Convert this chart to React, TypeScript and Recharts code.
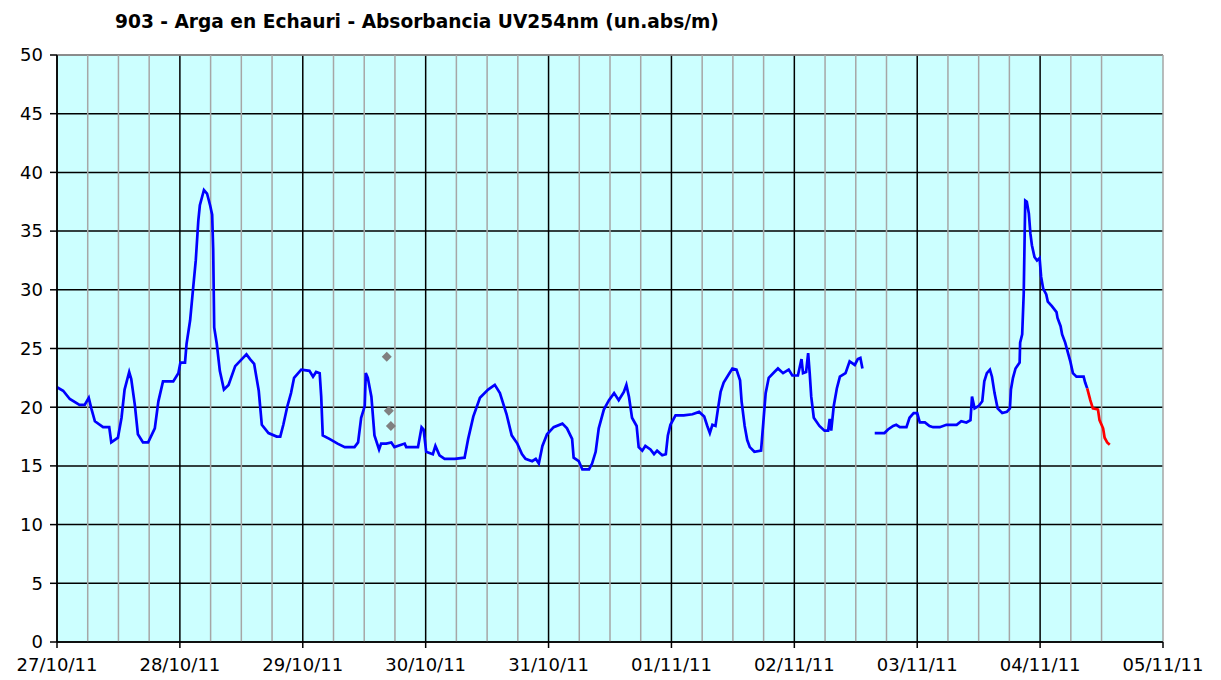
import {
  CartesianGrid,
  ComposedChart,
  Line,
  Scatter,
  XAxis,
  YAxis,
} from "recharts";

// hours since 27/10/11 00:00 -> absorbance (un.abs/m)
const dayLabels = [
  "27/10/11",
  "28/10/11",
  "29/10/11",
  "30/10/11",
  "31/10/11",
  "01/11/11",
  "02/11/11",
  "03/11/11",
  "04/11/11",
  "05/11/11",
];

const yTicks = [0, 5, 10, 15, 20, 25, 30, 35, 40, 45, 50];

const blueBeforeGap: [number, number][] = [
  [0, 21.7], [1.2, 21.4], [2.5, 20.7], [4.4, 20.2], [5.4, 20.2], [6.2, 20.8],
  [6.7, 19.9], [7.4, 18.8], [9.0, 18.3], [10.2, 18.3], [10.6, 17.0], [11.9, 17.4],
  [12.6, 19.1], [13.2, 21.5], [14.1, 23.0], [14.5, 22.4], [15.2, 20.2], [15.8, 17.7],
  [16.8, 17.0], [17.8, 17.0], [19.1, 18.2], [19.8, 20.5], [20.7, 22.2], [22.7, 22.2],
  [23.7, 22.9], [24.1, 23.8], [25.0, 23.8], [25.3, 25.4], [26.0, 27.4], [26.6, 30.2],
  [27.1, 32.5], [27.6, 35.9], [27.9, 37.2], [28.7, 38.5], [29.3, 38.2], [29.9, 37.2],
  [30.3, 36.4], [30.5, 33.5], [30.7, 26.8], [31.2, 25.4], [31.8, 23.1], [32.6, 21.5],
  [33.5, 21.9], [34.8, 23.5], [36.1, 24.1], [37.0, 24.5], [37.7, 24.1], [38.5, 23.7],
  [39.4, 21.4], [40.0, 18.5], [41.3, 17.8], [42.9, 17.5], [43.6, 17.5], [44.2, 18.5],
  [45.0, 20.1], [45.7, 21.2], [46.3, 22.5], [47.7, 23.2], [49.3, 23.1], [50.0, 22.6],
  [50.6, 23.0], [51.3, 22.9], [51.6, 20.9], [51.9, 17.6], [53.2, 17.3], [54.8, 16.9],
  [56.2, 16.6], [58.1, 16.6], [58.8, 17.0], [59.4, 19.1], [60.1, 20.1], [60.3, 22.9],
  [60.7, 22.5], [61.4, 20.9], [62.0, 17.6], [62.9, 16.4], [63.3, 16.9], [64.3, 16.9],
  [65.3, 17.0], [65.9, 16.6], [67.9, 16.9], [68.2, 16.6], [70.5, 16.6], [71.2, 18.3],
  [71.6, 18.1], [72.1, 16.2], [73.4, 16.0], [73.9, 16.7], [74.7, 15.9], [75.7, 15.6],
  [77.7, 15.6], [79.6, 15.7], [80.3, 17.3], [81.3, 19.2], [82.6, 20.8], [84.2, 21.5],
  [85.5, 21.9], [86.5, 21.2], [87.8, 19.4], [88.8, 17.6], [89.9, 16.9], [90.8, 16.0],
  [91.5, 15.6], [92.8, 15.4], [93.5, 15.6], [94.1, 15.2], [94.8, 16.7], [95.7, 17.7],
  [97.0, 18.3], [98.7, 18.6], [99.6, 18.2], [100.6, 17.3], [100.9, 15.7], [101.9, 15.4],
  [102.6, 14.7], [103.9, 14.7], [104.5, 15.2], [105.2, 16.2], [105.8, 18.2], [106.8, 19.8],
  [107.8, 20.6], [108.8, 21.2], [109.7, 20.6], [110.7, 21.3], [111.2, 21.9], [111.7, 20.9],
  [112.3, 19.1], [113.2, 18.4], [113.6, 16.6], [114.3, 16.3], [114.9, 16.7], [115.9, 16.4],
  [116.6, 16.0], [117.2, 16.3], [118.2, 15.9], [118.9, 16.0], [119.3, 17.6], [119.8, 18.5],
  [120.8, 19.3], [122.4, 19.3], [124.1, 19.4], [125.4, 19.6], [126.4, 19.2], [127.0, 18.4],
  [127.5, 17.8], [128.0, 18.5], [128.6, 18.4], [129.1, 19.9], [129.6, 21.3], [130.2, 22.1],
  [131.2, 22.8], [131.9, 23.3], [132.7, 23.2], [133.4, 22.3], [133.7, 20.5], [134.3, 18.4],
  [134.8, 17.2], [135.3, 16.6], [136.2, 16.2], [137.5, 16.3], [138.0, 19.0], [138.4, 21.2],
  [139.0, 22.5], [140.1, 23.0], [140.8, 23.3], [141.8, 22.9], [142.9, 23.2], [143.6, 22.7],
  [144.7, 22.7], [145.4, 24.1], [145.7, 22.9], [146.3, 23.0], [146.7, 24.6], [147.0, 22.9],
  [147.3, 20.9], [147.8, 19.1], [148.9, 18.4], [149.9, 18.0], [150.6, 18.0], [150.9, 19.0],
  [151.2, 18.0], [151.7, 20.1], [152.3, 21.6], [152.9, 22.6], [154.0, 22.9], [154.8, 23.9],
  [155.8, 23.6], [156.4, 24.1], [156.9, 24.2], [157.3, 23.3],
];

const blueAfterGap: [number, number][] = [
  [159.7, 17.8], [160.7, 17.8], [161.6, 17.8], [162.3, 18.1], [163.3, 18.4], [163.9, 18.5],
  [164.6, 18.3], [165.9, 18.3], [166.5, 19.1], [167.3, 19.5], [168.0, 19.5], [168.5, 18.7],
  [169.5, 18.7], [170.4, 18.4], [171.1, 18.3], [172.4, 18.3], [173.7, 18.5], [175.7, 18.5],
  [176.6, 18.8], [177.6, 18.7], [178.4, 18.9], [178.7, 20.9], [179.2, 19.9], [180.0, 20.1],
  [180.7, 20.5], [181.1, 22.2], [181.6, 22.9], [182.2, 23.2], [182.6, 22.6], [183.1, 21.2],
  [183.7, 19.9], [184.6, 19.5], [185.5, 19.6], [186.1, 19.9], [186.3, 21.5], [186.7, 22.5],
  [187.2, 23.3], [188.0, 23.8], [188.1, 25.5], [188.5, 26.2], [188.8, 29.7], [189.0, 35.1],
  [189.1, 37.6], [189.4, 37.5], [189.8, 36.5], [190.1, 34.8], [190.4, 33.8], [190.9, 32.8],
  [191.4, 32.5], [191.9, 32.7], [192.2, 31.1], [192.6, 30.1], [193.2, 29.6], [193.5, 29.0],
  [194.3, 28.6], [195.2, 28.1], [195.4, 27.6], [196.0, 26.9], [196.3, 26.2], [196.9, 25.5],
  [197.4, 24.7], [197.9, 23.9], [198.4, 22.9], [199.1, 22.6], [199.9, 22.6], [200.5, 22.6],
  [200.8, 22.1], [201.2, 21.6],
];

const redTail: [number, number][] = [
  [201.2, 21.6], [201.8, 20.6], [202.3, 19.9], [203.3, 19.8], [203.6, 18.9],
  [204.3, 18.2], [204.6, 17.4], [205.1, 17.0], [205.6, 16.8],
];

const grayPoints: [number, number][] = [
  [64.4, 24.3], [64.8, 19.7], [65.2, 18.4],
];

const toRows = (pts: [number, number][]) => pts.map(([t, v]) => ({ t, v }));

const dayTicks = dayLabels.map((_, i) => i * 24);
const sixHourLines = dayTicks
  .slice(0, -1)
  .flatMap((d) => [d + 6, d + 12, d + 18])
  .concat([dayTicks[dayTicks.length - 1]]);

const font = { fill: "#000", fontSize: 18, fontFamily: "DejaVu Sans" };

const Diamond = ({ cx, cy }: any) => (
  <polygon
    points={`${cx},${cy - 5} ${cx + 5},${cy} ${cx},${cy + 5} ${cx - 5},${cy}`}
    fill="#808080"
  />
);

export default function App() {
  return (
    <div style={{ position: "absolute", left: 0, top: 0, width: 1221, height: 680, background: "#fff" }}>
      <div
        style={{
          position: "absolute",
          left: 115,
          top: 11,
          fontFamily: "DejaVu Sans",
          fontWeight: "bold",
          fontSize: 18.6,
          color: "#000",
          whiteSpace: "nowrap",
        }}
      >
        903 - Arga en Echauri - Absorbancia UV254nm (un.abs/m)
      </div>
      <ComposedChart
        width={1221}
        height={680}
        margin={{ top: 55, right: 58, bottom: 0, left: 0 }}
      >
        <CartesianGrid
          fill="#CCFFFF"
          stroke="#000"
          strokeWidth={1.5}
          horizontalValues={yTicks}
          verticalValues={dayTicks.slice(0, -1)}
        />
        <CartesianGrid
          stroke="#A6A6A6"
          strokeWidth={1.5}
          horizontalValues={[50]}
          verticalValues={sixHourLines}
        />
        <XAxis
          dataKey="t"
          type="number"
          domain={[0, 216]}
          ticks={dayTicks}
          tickFormatter={(v: number) => dayLabels[v / 24]}
          height={38}
          tickSize={6}
          tickMargin={10}
          tick={font}
          stroke="#000"
          strokeWidth={1.5}
        />
        <YAxis
          type="number"
          domain={[0, 50]}
          ticks={yTicks}
          width={57}
          tickSize={7}
          tickMargin={7}
          tick={font}
          stroke="#000"
          strokeWidth={1.5}
          interval={0}
        />
        <Line
          data={toRows(blueBeforeGap)}
          dataKey="v"
          type="linear"
          stroke="#0000FF"
          strokeWidth={2.7}
          dot={false}
          isAnimationActive={false}
        />
        <Line
          data={toRows(blueAfterGap)}
          dataKey="v"
          type="linear"
          stroke="#0000FF"
          strokeWidth={2.7}
          dot={false}
          isAnimationActive={false}
        />
        <Line
          data={toRows(redTail)}
          dataKey="v"
          type="linear"
          stroke="#FF0000"
          strokeWidth={2.7}
          dot={false}
          isAnimationActive={false}
        />
        <Scatter
          data={toRows(grayPoints)}
          dataKey="v"
          shape={<Diamond />}
          isAnimationActive={false}
        />
      </ComposedChart>
    </div>
  );
}
